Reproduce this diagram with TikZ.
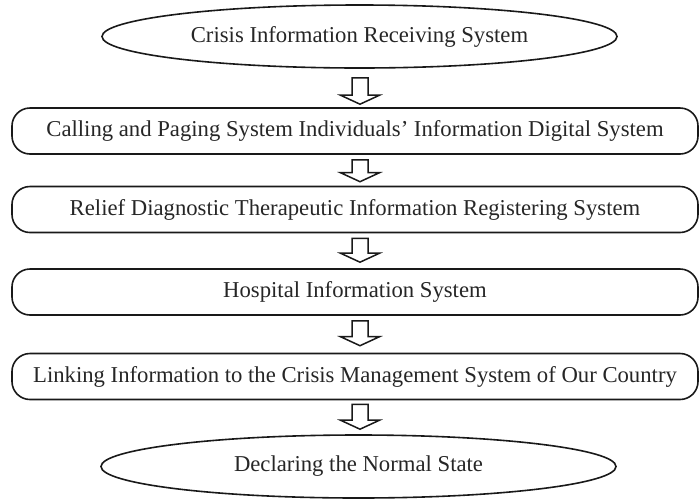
\documentclass[tikz,border=0pt]{standalone}
\usepackage{fontspec}
\setmainfont{Liberation Serif}
\usetikzlibrary{shapes.geometric,calc}
\tikzset{
  base/.style={draw=black!90, line width=1.6pt, inner sep=0pt, font=\fontsize{22.7}{26}\selectfont, text=black!85},
  ellbox/.style={base, ellipse, minimum width=515pt, minimum height=63pt},
  rbox/.style={base, rectangle, rounded corners=18pt, minimum width=686pt, minimum height=46pt},
  blk/.style={draw=black!90, line width=1.5pt, fill=white, line join=miter}
}
% block arrow from node #1 down to node #2; #3 = gap above, #4 = gap below
\newcommand{\barrow}[4]{%
  \draw[blk] let \p1=(#1.south), \p2=(#2.north) in
    (352pt,\y1-#3) -- (352pt,\y2+#4+9pt) -- (340.5pt,\y2+#4+9pt) -- (360pt,\y2+#4)
    -- (379.5pt,\y2+#4+9pt) -- (368pt,\y2+#4+9pt) -- (368pt,\y1-#3) -- cycle;
}
\begin{document}
\begin{tikzpicture}[x=1pt,y=-1pt]
\useasboundingbox (0,0) rectangle (699,499);
\node[ellbox] (e1) at (359.5,36.5) {Crisis Information Receiving System};
\node[rbox] (b2) at (355,131) {Calling and Paging System Individuals’ Information Digital System};
\node[rbox] (b3) at (355,209.5) {Relief Diagnostic Therapeutic Information Registering System};
\node[rbox] (b4) at (355,292) {Hospital Information System};
\node[rbox] (b5) at (355,376.5) {Linking Information to the Crisis Management System of Our Country};
\node[ellbox] (e2) at (358.5,466.5) {Declaring the Normal State};
\barrow{e1}{b2}{9pt}{3pt}
\barrow{b2}{b3}{5pt}{4pt}
\barrow{b3}{b4}{5pt}{6pt}
\barrow{b4}{b5}{5pt}{7pt}
\barrow{b5}{e2}{4pt}{5pt}
\end{tikzpicture}
\end{document}
